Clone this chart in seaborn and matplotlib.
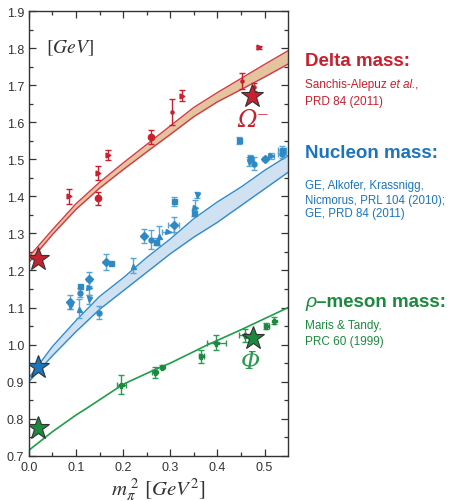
import numpy as np
import pandas as pd
import matplotlib
matplotlib.use("Agg")
import matplotlib.pyplot as plt
import seaborn as sns

sns.set_theme(style="ticks")
plt.rcParams["font.family"] = ["Liberation Sans", "DejaVu Sans"]
plt.rcParams["mathtext.fontset"] = "stix"

# --- theory bands (DSE results) ---
band_x = [0.0, 0.05, 0.1, 0.15, 0.2, 0.25, 0.3, 0.35, 0.4, 0.45, 0.5, 0.55]
delta_hi = [1.237, 1.31, 1.38, 1.438, 1.49, 1.54, 1.59, 1.64, 1.68, 1.718, 1.756, 1.793]
delta_lo = [1.222, 1.297, 1.365, 1.422, 1.472, 1.52, 1.567, 1.615, 1.655, 1.688, 1.722, 1.757]
nuc_hi = [0.91, 0.995, 1.065, 1.13, 1.18, 1.235, 1.285, 1.34, 1.385, 1.425, 1.47, 1.51]
nuc_lo = [0.90, 0.97, 1.035, 1.095, 1.145, 1.195, 1.245, 1.29, 1.33, 1.375, 1.42, 1.465]
rho_x = [0.0, 0.05, 0.1, 0.12, 0.2, 0.27, 0.3, 0.38, 0.45, 0.55]
rho_m = [0.715, 0.765, 0.81, 0.826, 0.893, 0.934, 0.95, 1.0, 1.04, 1.10]

# --- lattice data ---
delta_px = [0.085, 0.147, 0.147, 0.168, 0.26, 0.304, 0.324, 0.453, 0.489, 0.477]
delta_py = [1.40, 1.463, 1.395, 1.512, 1.56, 1.628, 1.672, 1.712, 1.802, 1.695]
delta_pe = [0.02, 0.018, 0.017, 0.013, 0.018, 0.035, 0.016, 0.022, 0.005, 0.01]
delta_mk = [">", ">", "o", ">", "o", ".", ">", ".", ">", "."]

nuc_px = [0.088, 0.088, 0.106, 0.108, 0.108, 0.128, 0.128, 0.128, 0.148, 0.163,
          0.175, 0.221, 0.244, 0.26, 0.27, 0.276, 0.295, 0.307, 0.307, 0.35,
          0.352, 0.357, 0.446, 0.47, 0.468, 0.477, 0.50, 0.514, 0.537, 0.537]
nuc_py = [1.115, 1.105, 1.097, 1.158, 1.14, 1.177, 1.153, 1.122, 1.086, 1.223,
          1.219, 1.213, 1.293, 1.283, 1.278, 1.294, 1.303, 1.324, 1.387, 1.354,
          1.369, 1.404, 1.551, 1.504, 1.493, 1.488, 1.501, 1.51, 1.525, 1.514]
nuc_pe = [0.018, 0.01, 0.025, 0.0, 0.012, 0.02, 0.02, 0.012, 0.017, 0.022,
          0.0, 0.02, 0.02, 0.025, 0.01, 0.025, 0.0, 0.02, 0.012, 0.008,
          0.02, 0.008, 0.01, 0.008, 0.012, 0.017, 0.006, 0.008, 0.01, 0.01]
nuc_pxe = [0, 0, 0, 0, 0, 0, 0, 0, 0, 0,
           0, 0, 0, 0, 0, 0, 0.012, 0.012, 0, 0,
           0, 0, 0, 0, 0, 0, 0, 0.006, 0.008, 0.008]
nuc_mk = ["D", "v", "^", "s", "o", "D", ">", "v", "o", "D",
          "s", "^", "D", "o", "s", "^", ">", "D", "s", "s",
          ">", "v", "s", "s", "v", "o", "D", ">", "s", "o"]

rho_px = [0.196, 0.267, 0.282, 0.366, 0.398, 0.458, 0.504, 0.521]
rho_py = [0.892, 0.925, 0.94, 0.968, 1.005, 1.025, 1.05, 1.065]
rho_pe = [0.025, 0.015, 0.006, 0.018, 0.02, 0.017, 0.008, 0.01]
rho_pxe = [0.01, 0.005, 0.0, 0.005, 0.02, 0.012, 0.006, 0.0]

# physical masses (stars)
star_x = [0.0195, 0.0195, 0.0195, 0.473, 0.475]
star_y = [1.232, 0.939, 0.775, 1.672, 1.019]

RED = "#c8202f"
BLUE = "#1c75bc"
GREEN = "#1b8a3e"
red_line = "#d23a44"
blue_line = "#2f8bcc"
green_line = "#1f9d4a"
star_col = [RED, BLUE, GREEN, RED, GREEN]

fig = plt.figure(figsize=(4.58, 5.02), dpi=100)
ax = fig.add_axes([0.063, 0.09, 0.566, 0.886])

# bands
ax.fill_between(band_x, delta_lo, delta_hi, color="#e4c39f", lw=0)
ax.fill_between(band_x, nuc_lo, nuc_hi, color="#d0e1f1", lw=0)
bands = pd.DataFrame({
    "x": band_x * 4,
    "m": delta_hi + delta_lo + nuc_hi + nuc_lo,
    "edge": ["dhi"] * 12 + ["dlo"] * 12 + ["nhi"] * 12 + ["nlo"] * 12,
})
sns.lineplot(data=bands, x="x", y="m", hue="edge", units="edge", estimator=None,
             palette={"dhi": red_line, "dlo": red_line, "nhi": blue_line, "nlo": blue_line},
             lw=1.0, legend=False, ax=ax)
sns.lineplot(x=rho_x, y=rho_m, color=green_line, lw=1.2, ax=ax)

# lattice points
for x, y, e, m in zip(delta_px, delta_py, delta_pe, delta_mk):
    ax.errorbar(x, y, yerr=e if e else None, fmt=m,
                ms={"o": 4.5, ".": 4.5}.get(m, 3.5),
                color=RED, ecolor=RED, elinewidth=1, capsize=2.2, capthick=1)
for x, y, e, xe, m in zip(nuc_px, nuc_py, nuc_pe, nuc_pxe, nuc_mk):
    ax.errorbar(x, y, yerr=e if e else None, xerr=xe if xe else None, fmt=m, ms=3.6,
                color="#2f8ac4", ecolor="#5aa5d6", elinewidth=1, capsize=2.2, capthick=1)
for x, y, e, xe in zip(rho_px, rho_py, rho_pe, rho_pxe):
    ax.errorbar(x, y, yerr=e, xerr=xe if xe else None, fmt="P", ms=3.6,
                color=GREEN, ecolor="#2c9a52", elinewidth=1, capsize=2.2, capthick=1)

for x, y, c in zip(star_x, star_y, star_col):
    ax.plot(x, y, marker="*", ms=17, mfc=c, mec="#333333", mew=0.8, ls="none", zorder=5)

ax.text(0.477, 1.608, "\u03a9\u207b", color=RED, fontsize=17, ha="center", va="center",
        family="DejaVu Serif", style="italic")
ax.text(0.47, 0.955, "\u03a6", color="#2a9a4e", fontsize=17, ha="center", va="center",
        family="DejaVu Serif", style="italic")
ax.text(0.087, 1.803, r"$[GeV]$", color="#333333", fontsize=14, ha="center", va="center")

ax.set_xlim(0, 0.55)
ax.set_ylim(0.7, 1.9)
ax.set_xticks([0.0, 0.1, 0.2, 0.3, 0.4, 0.5])
ax.set_xticks(np.arange(0.05, 0.55, 0.1), minor=True)
ax.set_yticks(np.arange(0.7, 1.91, 0.1))
ax.set_yticks(np.arange(0.75, 1.9, 0.1), minor=True)
ax.set_xticklabels(["0.0", "0.1", "0.2", "0.3", "0.4", "0.5"])
ax.set_yticklabels([f"{v:.1f}" for v in np.arange(0.7, 1.91, 0.1)])
ax.tick_params(which="both", direction="in", top=True, right=True, colors="#333333",
               labelsize=9, width=0.9)
ax.tick_params(which="major", length=5)
ax.tick_params(which="minor", length=3)
for s in ax.spines.values():
    s.set_linewidth(1.0)
    s.set_color("#333333")
ax.set_xlabel(r"$m_{\pi}^{\ 2}\ [GeV^{2}]$", fontsize=15, color="#333333", labelpad=2)
ax.set_ylabel("")

# right-hand annotations (pieces laid out left to right)
renderer = fig.canvas.get_renderer()


def ft(px, py, pieces, color):
    x = px
    for s, kw in pieces:
        t = fig.text(x / 458, 1 - py / 502, s, va="baseline", ha="left", color=color, **kw)
        x += t.get_window_extent(renderer).width


ft(305, 66, [("Delta mass:", dict(fontsize=13.5, fontweight="bold"))], RED)
ft(305, 88, [("Sanchis-Alepuz ", dict(fontsize=8.5)),
             ("et al.", dict(fontsize=8.5, style="italic")),
             (",", dict(fontsize=8.5))], RED)
ft(305, 105, [("PRD 84 (2011)", dict(fontsize=8.5))], RED)
ft(305, 158, [("Nucleon mass:", dict(fontsize=13.5, fontweight="bold"))], BLUE)
ft(305, 189, [("GE, Alkofer, Krassnigg,", dict(fontsize=8.3))], BLUE)
ft(305, 204, [("Nicmorus, PRL 104 (2010);", dict(fontsize=8.3))], BLUE)
ft(305, 217, [("GE, PRD 84 (2011)", dict(fontsize=8.3))], BLUE)
ft(305, 307, [("\u03c1", dict(fontsize=14, style="italic")),
              ("\u2013meson mass:", dict(fontsize=13.5, fontweight="bold"))], GREEN)
ft(305, 329, [("Maris & Tandy,", dict(fontsize=8.5))], GREEN)
ft(305, 345, [("PRC 60 (1999)", dict(fontsize=8.5))], GREEN)

fig.savefig("out.png", dpi=100)
